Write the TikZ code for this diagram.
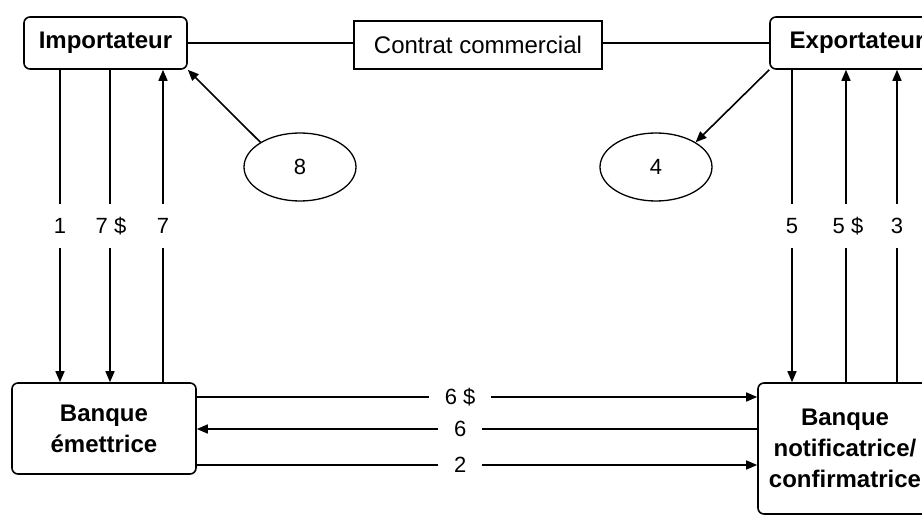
\documentclass[tikz,border=0pt]{standalone}
\usepackage{fontspec}
\setmainfont{Liberation Sans}
\usetikzlibrary{arrows.meta,shapes.geometric,calc}
\begin{document}
\begin{tikzpicture}[x=1pt,y=-1pt,
  box/.style={draw,line width=1.6pt,rounded corners=6pt,inner sep=0pt,align=center,
    font=\fontsize{24}{31}\selectfont\bfseries},
  plainbox/.style={draw,line width=1.6pt,inner sep=0pt,font=\fontsize{24}{29}\selectfont},
  oval/.style={draw,ellipse,line width=1.3pt,inner sep=0pt,minimum width=112pt,minimum height=68pt,
    font=\fontsize{22}{26}\selectfont},
  conn/.style={line width=1.6pt},
  arr/.style={conn,-{Triangle[length=11pt,width=9pt]}},
  vlab/.style={fill=white,inner xsep=2pt,inner ysep=0pt,minimum height=44pt,font=\fontsize{22}{26}\selectfont},
  hlab/.style={fill=white,inner xsep=16pt,inner ysep=0pt,minimum height=18pt,font=\fontsize{22}{26}\selectfont}
]
\useasboundingbox (0,0) rectangle (922,516);
\clip (0,0) rectangle (922,516);

% nodes
\node[box,minimum width=163pt,minimum height=52pt] (imp) at (105.5,43) {Importateur};
\node[plainbox,minimum width=248pt,minimum height=48pt] (contrat) at (478,45) {Contrat commercial};
\node[box,minimum width=174pt,minimum height=52pt] (exp) at (857,43) {Exportateur};
\node[oval] (e8) at (300,167) {8};
\node[oval] (e4) at (656,167) {4};
\node[box,minimum width=184pt,minimum height=91pt] (be) at (104,428.5) {Banque\\émettrice};
\node[box,minimum width=174pt,minimum height=131pt] (bn) at (845,448.5) {Banque\\notificatrice/\\confirmatrice};

% x and y guides
\coordinate (xa) at (60,0);
\coordinate (xb) at (110,0);
\coordinate (xc) at (163,0);
\coordinate (xd) at (792,0);
\coordinate (xe) at (846,0);
\coordinate (xf) at (897,0);
\coordinate (ya) at (0,397);
\coordinate (yb) at (0,429);
\coordinate (yc) at (0,465);

% contract line
\draw[conn] (imp.east) -- (contrat.west |- imp.east);
\draw[conn] (contrat.east |- exp.west) -- (exp.west);

% ellipse arrows
\draw[arr] (e8.148) -- (imp.south east);
\draw[arr] (exp.south west) -- (e4.32);

% left verticals
\draw[arr] (imp.south -| xa) -- node[vlab]{1} (be.north -| xa);
\draw[arr] (imp.south -| xb) -- node[vlab,xshift=1pt]{7 \$} (be.north -| xb);
\draw[arr] (be.north -| xc) -- node[vlab]{7} (imp.south -| xc);

% right verticals
\draw[arr] (exp.south -| xd) -- node[vlab]{5} (bn.north -| xd);
\draw[arr] (bn.north -| xe) -- node[vlab,xshift=2pt]{5 \$} (exp.south -| xe);
\draw[arr] (bn.north -| xf) -- node[vlab]{3} (exp.south -| xf);

% horizontals
\draw[arr] (be.east |- ya) -- node[hlab,pos=0.47]{6 \$} (bn.west |- ya);
\draw[arr] (bn.west |- yb) -- node[hlab,pos=0.53]{6} (be.east |- yb);
\draw[arr] (be.east |- yc) -- node[hlab,pos=0.47]{2} (bn.west |- yc);
\end{tikzpicture}
\end{document}
